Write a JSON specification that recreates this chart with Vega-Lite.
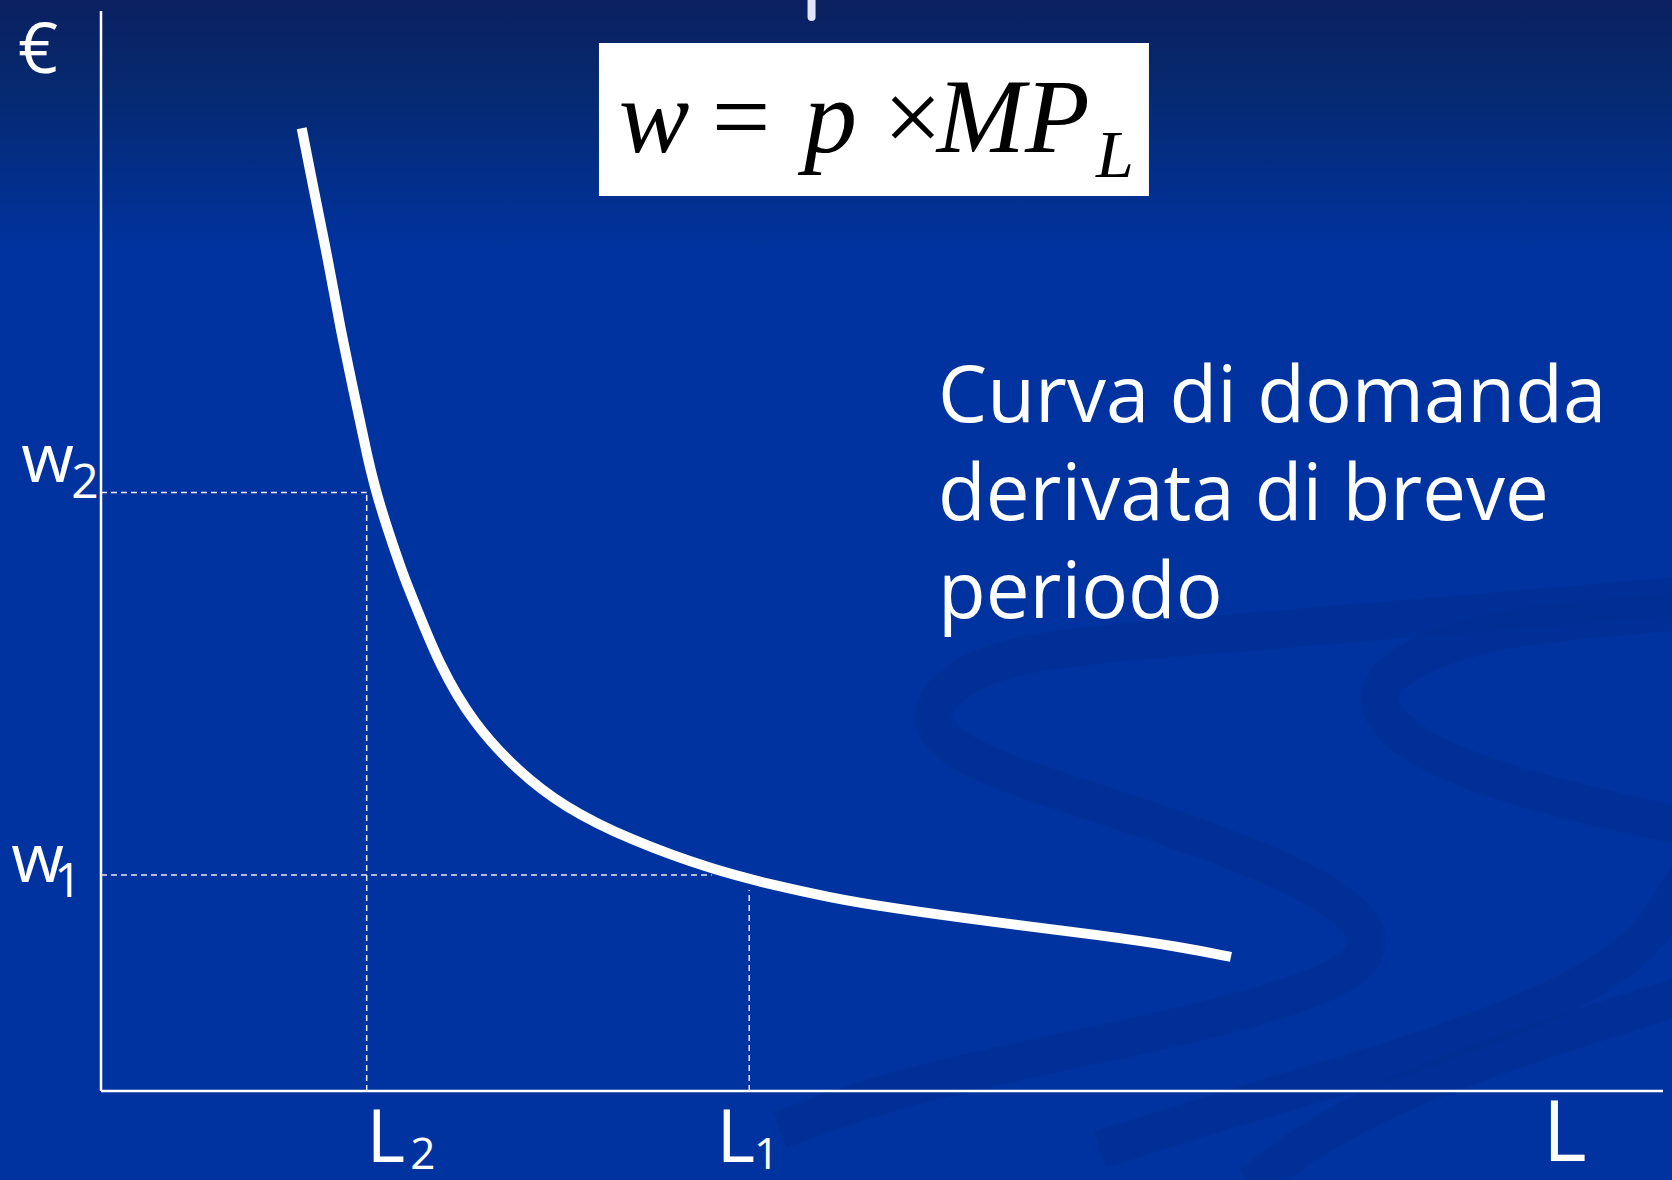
{
  "$schema": "https://vega.github.io/schema/vega-lite/v6.json",
  "width": 1562,
  "height": 1080,
  "autosize": {"type": "none"},
  "padding": {"left": 101, "top": 11, "right": 9, "bottom": 89},
  "background": "#0033a0",
  "config": {"view": {"stroke": null}},
  "layer": [
    {
      "data": {"values": [{}]},
      "mark": {"type": "rect", "fill": {"gradient": "linear", "x1": 0, "y1": 0, "x2": 0, "y2": 1, "stops": [{"offset": 0, "color": "#0b1f5e"}, {"offset": 0.08, "color": "#06296f"}, {"offset": 0.22, "color": "#0033a0"}, {"offset": 1, "color": "#0033a0"}]}},
      "encoding": {
        "x": {"datum": -7, "type": "quantitative", "scale": {"domain": [0, 100], "nice": false, "zero": false}, "axis": null},
        "x2": {"datum": 101},
        "y": {"datum": 102, "type": "quantitative", "scale": {"domain": [0, 100], "nice": false, "zero": false}, "axis": null},
        "y2": {"datum": -9}
      }
    },
    {
      "data": {"values": [
        {"s": "A", "i": 1, "x": 102.37, "y": 46.02},
        {"s": "A", "i": 2, "x": 81.5, "y": 43.43},
        {"s": "A", "i": 3, "x": 64.72, "y": 41.57},
        {"s": "A", "i": 4, "x": 56.34, "y": 40.09},
        {"s": "A", "i": 5, "x": 52.3, "y": 35.19},
        {"s": "A", "i": 6, "x": 54.67, "y": 30.74},
        {"s": "A", "i": 7, "x": 64.72, "y": 26.3},
        {"s": "A", "i": 8, "x": 76.5, "y": 20.37},
        {"s": "A", "i": 9, "x": 82.2, "y": 14.72},
        {"s": "A", "i": 10, "x": 79.83, "y": 9.91},
        {"s": "A", "i": 11, "x": 68.12, "y": 5.46},
        {"s": "A", "i": 12, "x": 51.28, "y": 0.65},
        {"s": "A", "i": 13, "x": 43.47, "y": -3.61},
        {"s": "B", "i": 1, "x": 102.37, "y": 44.54},
        {"s": "B", "i": 2, "x": 89.56, "y": 43.15},
        {"s": "B", "i": 3, "x": 83.16, "y": 39.91},
        {"s": "B", "i": 4, "x": 80.86, "y": 35.93},
        {"s": "B", "i": 5, "x": 84.89, "y": 30.74},
        {"s": "B", "i": 6, "x": 93.41, "y": 26.94},
        {"s": "B", "i": 7, "x": 102.37, "y": 24.17},
        {"s": "C", "i": 1, "x": 102.37, "y": 22.31},
        {"s": "C", "i": 2, "x": 99.81, "y": 14.91},
        {"s": "C", "i": 3, "x": 94.94, "y": 9.17},
        {"s": "C", "i": 4, "x": 83.16, "y": 2.87},
        {"s": "C", "i": 5, "x": 71.45, "y": -1.94},
        {"s": "C", "i": 6, "x": 63.96, "y": -5.46},
        {"s": "D", "i": 1, "x": 102.37, "y": 9.35},
        {"s": "D", "i": 2, "x": 81.5, "y": -0.09},
        {"s": "D", "i": 3, "x": 73.56, "y": -8.7}
      ]},
      "mark": {"type": "line", "color": "#002c8c", "opacity": 0.45, "strokeWidth": 38, "interpolate": "basis"},
      "encoding": {
        "x": {"field": "x", "type": "quantitative", "scale": {"domain": [0, 100], "nice": false, "zero": false}, "axis": null},
        "y": {"field": "y", "type": "quantitative", "scale": {"domain": [0, 100], "nice": false, "zero": false}, "axis": null},
        "detail": {"field": "s"},
        "order": {"field": "i"}
      }
    },
    {
      "data": {"values": [{"x": 0, "y": 0, "x2": 100, "y2": 0}, {"x": 0, "y": 0, "x2": 0, "y2": 100}]},
      "mark": {"type": "rule", "color": "#ffffff", "strokeWidth": 2.5},
      "encoding": {
        "x": {"field": "x", "type": "quantitative", "scale": {"domain": [0, 100], "nice": false, "zero": false}, "axis": null},
        "x2": {"field": "x2"},
        "y": {"field": "y", "type": "quantitative", "scale": {"domain": [0, 100], "nice": false, "zero": false}, "axis": null},
        "y2": {"field": "y2"}
      }
    },
    {
      "data": {"values": [
        {"x": 0, "x2": 17.01, "y": 55.42, "y2": 55.42},
        {"x": 17.01, "x2": 17.01, "y": 0, "y2": 55.42},
        {"x": 0, "x2": 39.1, "y": 20.0, "y2": 20.0},
        {"x": 41.5, "x2": 41.5, "y": 0, "y2": 18.61}
      ]},
      "mark": {"type": "rule", "color": "#e6e9f7", "strokeWidth": 1.5, "strokeDash": [6, 4]},
      "encoding": {
        "x": {"field": "x", "type": "quantitative", "scale": {"domain": [0, 100], "nice": false, "zero": false}, "axis": null},
        "x2": {"field": "x2"},
        "y": {"field": "y", "type": "quantitative", "scale": {"domain": [0, 100], "nice": false, "zero": false}, "axis": null},
        "y2": {"field": "y2"}
      }
    },
    {
      "data": {"values": [
        {"L": 12.85, "w": 89.14},
        {"L": 13.54, "w": 84.05},
        {"L": 14.18, "w": 79.44},
        {"L": 14.53, "w": 76.94},
        {"L": 15.3, "w": 70.77},
        {"L": 16.2, "w": 64.6},
        {"L": 17.09, "w": 58.43},
        {"L": 17.64, "w": 55.34},
        {"L": 18.29, "w": 52.25},
        {"L": 19.46, "w": 47.31},
        {"L": 20.01, "w": 45.46},
        {"L": 21.7, "w": 39.29},
        {"L": 23.84, "w": 34.05},
        {"L": 26.61, "w": 29.72},
        {"L": 29.6, "w": 26.32},
        {"L": 33.87, "w": 23.24},
        {"L": 39.2, "w": 20.46},
        {"L": 43.15, "w": 19.03},
        {"L": 46.67, "w": 17.92},
        {"L": 50.13, "w": 17.04},
        {"L": 57.04, "w": 15.65},
        {"L": 63.96, "w": 14.44},
        {"L": 69.21, "w": 13.33},
        {"L": 72.34, "w": 12.41}
      ]},
      "mark": {"type": "line", "color": "#ffffff", "strokeWidth": 10, "interpolate": "basis", "strokeCap": "butt"},
      "encoding": {
        "x": {"field": "L", "type": "quantitative", "scale": {"domain": [0, 100], "nice": false, "zero": false}, "axis": null},
        "y": {"field": "w", "type": "quantitative", "scale": {"domain": [0, 100], "nice": false, "zero": false}, "axis": null}
      }
    },
    {
      "data": {"values": [{}]},
      "mark": {"type": "rule", "color": "#e2e5ff", "strokeWidth": 8, "strokeCap": "round"},
      "encoding": {
        "x": {"datum": 45.49, "type": "quantitative", "scale": {"domain": [0, 100], "nice": false, "zero": false}, "axis": null},
        "y": {"datum": 102, "type": "quantitative", "scale": {"domain": [0, 100], "nice": false, "zero": false}, "axis": null},
        "y2": {"datum": 99.45}
      }
    },
    {
      "data": {"values": [{}]},
      "mark": {"type": "rect", "fill": "#ffffff"},
      "encoding": {
        "x": {"datum": 31.88, "type": "quantitative", "scale": {"domain": [0, 100], "nice": false, "zero": false}, "axis": null},
        "x2": {"datum": 67.09},
        "y": {"datum": 97.04, "type": "quantitative", "scale": {"domain": [0, 100], "nice": false, "zero": false}, "axis": null},
        "y2": {"datum": 82.87}
      }
    },
    {
      "data": {"values": [{"t": "w", "x": 33.15, "y": 86.94}, {"t": "p", "x": 45.0, "y": 86.94}, {"t": "MP", "x": 53.5, "y": 86.94}]},
      "mark": {"type": "text", "font": "Liberation Serif", "fontStyle": "italic", "fontSize": 106, "align": "left", "baseline": "alphabetic", "color": "#000000"},
      "encoding": {
        "x": {"field": "x", "type": "quantitative", "scale": {"domain": [0, 100], "nice": false, "zero": false}, "axis": null},
        "y": {"field": "y", "type": "quantitative", "scale": {"domain": [0, 100], "nice": false, "zero": false}, "axis": null},
        "text": {"field": "t"}
      }
    },
    {
      "data": {"values": [{"t": "=", "x": 39.1, "y": 86.94}, {"t": "×", "x": 50.1, "y": 86.94}]},
      "mark": {"type": "text", "font": "Liberation Serif", "fontSize": 104, "align": "left", "baseline": "alphabetic", "color": "#000000"},
      "encoding": {
        "x": {"field": "x", "type": "quantitative", "scale": {"domain": [0, 100], "nice": false, "zero": false}, "axis": null},
        "y": {"field": "y", "type": "quantitative", "scale": {"domain": [0, 100], "nice": false, "zero": false}, "axis": null},
        "text": {"field": "t"}
      }
    },
    {
      "data": {"values": [{"t": "L", "x": 63.7, "y": 84.63}]},
      "mark": {"type": "text", "font": "Liberation Serif", "fontStyle": "italic", "fontSize": 68, "align": "left", "baseline": "alphabetic", "color": "#000000"},
      "encoding": {
        "x": {"field": "x", "type": "quantitative", "scale": {"domain": [0, 100], "nice": false, "zero": false}, "axis": null},
        "y": {"field": "y", "type": "quantitative", "scale": {"domain": [0, 100], "nice": false, "zero": false}, "axis": null},
        "text": {"field": "t"}
      }
    },
    {
      "data": {"values": [{}]},
      "mark": {"type": "text", "text": ["Curva di domanda", "derivata di breve", "periodo"], "font": "Open Sans", "fontSize": 78, "lineHeight": 98, "align": "left", "baseline": "alphabetic", "color": "#ffffff"},
      "encoding": {
        "x": {"datum": 53.59, "type": "quantitative", "scale": {"domain": [0, 100], "nice": false, "zero": false}, "axis": null},
        "y": {"datum": 61.94, "type": "quantitative", "scale": {"domain": [0, 100], "nice": false, "zero": false}, "axis": null}
      }
    },
    {
      "data": {"values": [{"t": "€", "x": -4.03, "y": 94.25}]},
      "mark": {"type": "text", "font": "Open Sans", "fontSize": 70, "align": "center", "baseline": "alphabetic", "color": "#ffffff"},
      "encoding": {
        "x": {"field": "x", "type": "quantitative", "scale": {"domain": [0, 100], "nice": false, "zero": false}, "axis": null},
        "y": {"field": "y", "type": "quantitative", "scale": {"domain": [0, 100], "nice": false, "zero": false}, "axis": null},
        "text": {"field": "t"}
      }
    },
    {
      "data": {"values": [{"t": "w", "x": -5.1, "y": 56.39}, {"t": "w", "x": -5.75, "y": 19.35}]},
      "mark": {"type": "text", "font": "Open Sans", "fontSize": 68, "align": "left", "baseline": "alphabetic", "color": "#ffffff"},
      "encoding": {
        "x": {"field": "x", "type": "quantitative", "scale": {"domain": [0, 100], "nice": false, "zero": false}, "axis": null},
        "y": {"field": "y", "type": "quantitative", "scale": {"domain": [0, 100], "nice": false, "zero": false}, "axis": null},
        "text": {"field": "t"}
      }
    },
    {
      "data": {"values": [{"t": "L", "x": 17.0, "y": -6.6}, {"t": "L", "x": 39.4, "y": -6.6}]},
      "mark": {"type": "text", "font": "Open Sans", "fontSize": 74, "align": "left", "baseline": "alphabetic", "color": "#ffffff"},
      "encoding": {
        "x": {"field": "x", "type": "quantitative", "scale": {"domain": [0, 100], "nice": false, "zero": false}, "axis": null},
        "y": {"field": "y", "type": "quantitative", "scale": {"domain": [0, 100], "nice": false, "zero": false}, "axis": null},
        "text": {"field": "t"}
      }
    },
    {
      "data": {"values": [{"t": "2", "x": -1.9, "y": 54.91}, {"t": "1", "x": -3.0, "y": 17.96}]},
      "mark": {"type": "text", "font": "Open Sans", "fontSize": 48, "align": "left", "baseline": "alphabetic", "color": "#ffffff"},
      "encoding": {
        "x": {"field": "x", "type": "quantitative", "scale": {"domain": [0, 100], "nice": false, "zero": false}, "axis": null},
        "y": {"field": "y", "type": "quantitative", "scale": {"domain": [0, 100], "nice": false, "zero": false}, "axis": null},
        "text": {"field": "t"}
      }
    },
    {
      "data": {"values": [{"t": "2", "x": 19.8, "y": -7.2}, {"t": "1", "x": 41.8, "y": -7.2}]},
      "mark": {"type": "text", "font": "Open Sans", "fontSize": 44, "align": "left", "baseline": "alphabetic", "color": "#ffffff"},
      "encoding": {
        "x": {"field": "x", "type": "quantitative", "scale": {"domain": [0, 100], "nice": false, "zero": false}, "axis": null},
        "y": {"field": "y", "type": "quantitative", "scale": {"domain": [0, 100], "nice": false, "zero": false}, "axis": null},
        "text": {"field": "t"}
      }
    },
    {
      "data": {"values": [{"t": "L", "x": 92.3, "y": -6.5}]},
      "mark": {"type": "text", "font": "Open Sans", "fontSize": 84, "align": "left", "baseline": "alphabetic", "color": "#ffffff"},
      "encoding": {
        "x": {"field": "x", "type": "quantitative", "scale": {"domain": [0, 100], "nice": false, "zero": false}, "axis": null},
        "y": {"field": "y", "type": "quantitative", "scale": {"domain": [0, 100], "nice": false, "zero": false}, "axis": null},
        "text": {"field": "t"}
      }
    }
  ]
}
